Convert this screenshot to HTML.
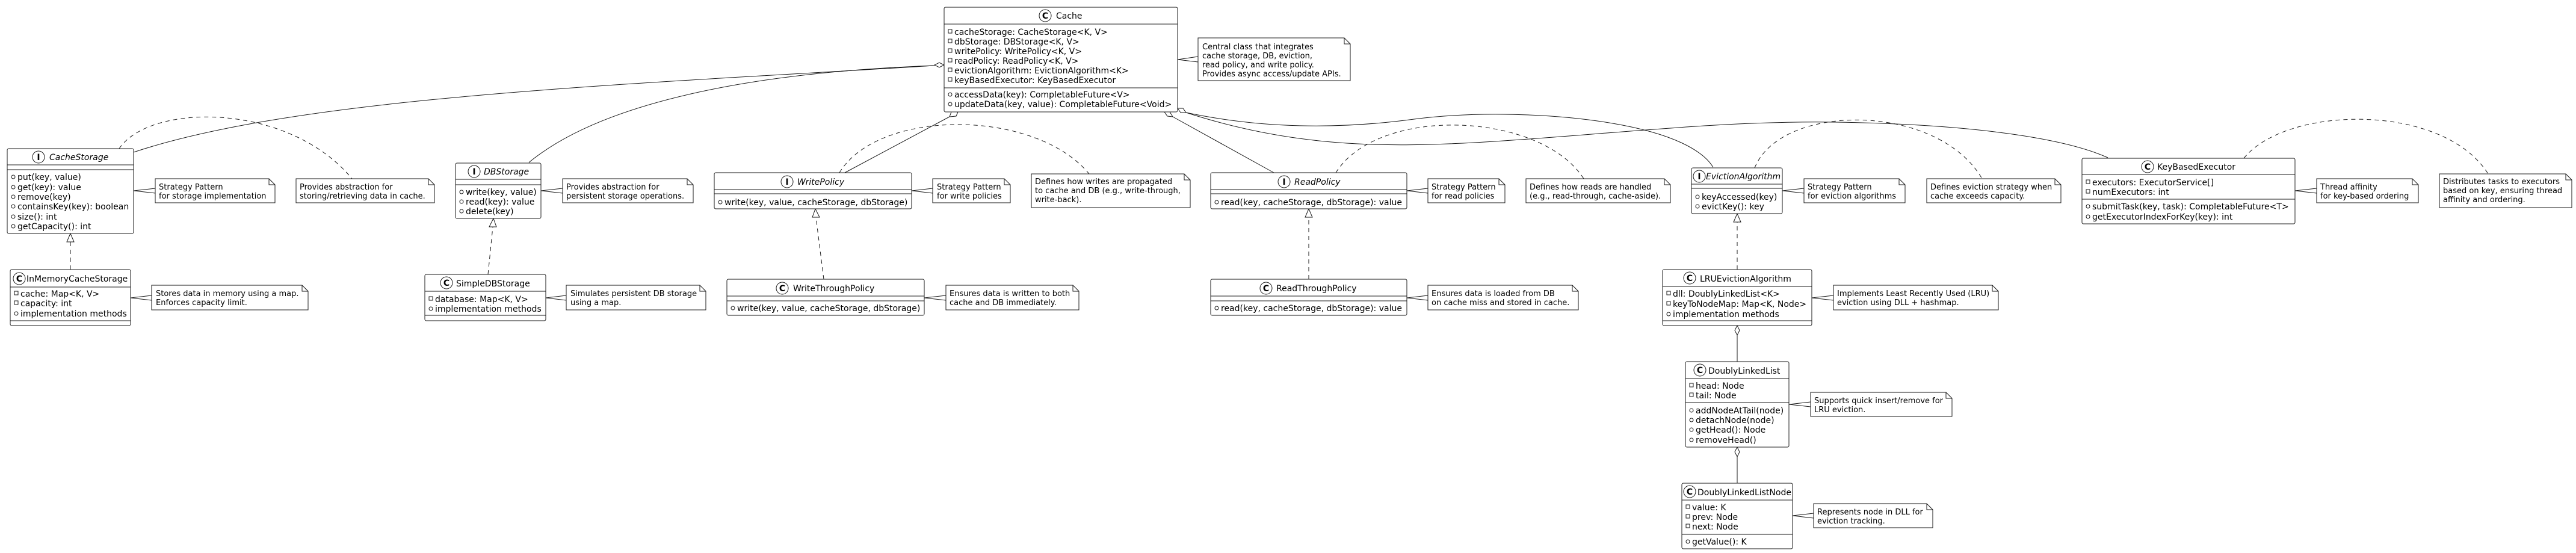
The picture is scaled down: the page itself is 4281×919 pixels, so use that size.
<!DOCTYPE html>
<html><head><meta charset="utf-8"><style>
html,body{margin:0;padding:0;background:#fff;}
svg{display:block;}
text{font-family:"DejaVu Sans","Liberation Sans",sans-serif;fill:#000;}
.m{font-size:14px;}
.n{font-size:14px;}
.it{font-style:italic;}
.ic{font-size:14px;font-weight:bold;}
.nt{font-size:13px;}
.b{fill:#fff;stroke:#181818;stroke-width:1;}
.l{stroke:#181818;stroke-width:1;fill:none;}
.d{stroke:#181818;stroke-width:1;fill:none;stroke-dasharray:7,6;}
.v{fill:none;stroke:#181818;stroke-width:1;}
</style></head><body>
<svg width="4281" height="919" viewBox="0 0 4281 919" xmlns="http://www.w3.org/2000/svg">
<rect width="4281" height="919" fill="#fff"/>

<!-- ============ CONNECTORS ============ -->
<!-- Cache -> CacheStorage / DBStorage -->
<path class="l" d="M1553,109 C1050,140 500,160 222,253"/>
<path class="l" d="M1553,109 C1250,120 1000,170 879,270"/>
<polygon class="b" points="1569,108 1561,104 1553,108 1561,112"/>
<!-- Cache -> WritePolicy -->
<line class="l" x1="1578" y1="194" x2="1404" y2="287"/>
<polygon class="b" points="1592,186 1589,193 1578,194 1581,186"/>
<!-- Cache -> ReadPolicy -->
<line class="l" x1="1949" y1="194" x2="2117" y2="287"/>
<polygon class="b" points="1935,186 1940,193 1949,194 1944,186"/>
<!-- Cache -> EvictionAlgorithm / KeyBasedExecutor -->
<path class="l" d="M1971,187 Q2150,225 2350,198 C2450,185 2580,188 2680,205 C2780,222 2830,250 2847,278"/>
<path class="l" d="M1971,187 C2150,245 2300,245 2450,237 C2650,226 2850,200 3050,203 C3250,206 3420,225 3503,262"/>
<polygon class="b" points="1957,180 1962,187 1971,187 1966,180"/>
<!-- LRU -> DLL, DLL -> Node -->
<line class="l" x1="2887" y1="557" x2="2887" y2="601"/>
<polygon class="b" points="2887,541 2883,549 2887,557 2891,549"/>
<line class="l" x1="2887" y1="759" x2="2887" y2="803"/>
<polygon class="b" points="2887,743 2883,751 2887,759 2891,751"/>

<!-- Realizations -->
<line class="d" x1="117" y1="448" x2="117" y2="402"/>
<polygon class="b" points="117,388 111,402 123,402"/>
<line class="d" x1="811" y1="456" x2="819" y2="377"/>
<polygon class="b" points="820,363 813,377 825,377"/>
<line class="d" x1="1369" y1="464" x2="1356" y2="361"/>
<polygon class="b" points="1355,347 1350,361 1362,361"/>
<line class="d" x1="2175" y1="464" x2="2175" y2="361"/>
<polygon class="b" points="2175,347 2169,361 2181,361"/>
<line class="d" x1="2887" y1="448" x2="2887" y2="369"/>
<polygon class="b" points="2887,355 2881,369 2893,369"/>

<!-- Dashed note links -->
<path class="d" d="M198,247 C250,170 480,170 585,297"/>
<path class="d" d="M1395,287 C1460,180 1720,180 1810,289"/>
<path class="d" d="M2220,287 C2290,175 2560,185 2632,297"/>
<path class="d" d="M2916,279 C2960,170 3220,170 3294,297"/>
<path class="d" d="M3729,263 C3800,175 4060,170 4135,289"/>

<!-- Note wedges -->
<polyline class="l" points="1991,94 1957,99 1991,103"/>
<polyline class="l" points="258,313 222,317 258,321"/>
<polyline class="l" points="252,491 217,495 252,499"/>
<polyline class="l" points="935,313 899,317 935,321"/>
<polyline class="l" points="941,491 907,495 941,499"/>
<polyline class="l" points="1550,313 1515,317 1550,321"/>
<polyline class="l" points="1572,491 1536,495 1572,499"/>
<polyline class="l" points="2373,313 2338,317 2373,321"/>
<polyline class="l" points="2373,491 2338,495 2373,499"/>
<polyline class="l" points="2998,313 2962,317 2998,321"/>
<polyline class="l" points="3850,313 3814,317 3850,321"/>
<polyline class="l" points="3047,491 3011,495 3047,499"/>
<polyline class="l" points="3009,668 2973,672 3009,676"/>
<polyline class="l" points="3014,853 2979,857 3014,861"/>

<!-- ============ CLASSES ============ -->
<!-- Cache -->
<g transform="translate(1569,12)">
<rect class="b" width="388" height="174" rx="2.5"/>
<line class="l" x1="0" y1="28" x2="388" y2="28"/><line class="l" x1="0" y1="134" x2="388" y2="134"/>
<circle class="b" cx="168" cy="14" r="10"/><text class="ic" x="168" y="19" text-anchor="middle">C</text>
<text class="n" x="186" y="19">Cache</text>
<rect class="v" x="7" y="37" width="6" height="6"/><text class="m" x="17" y="46">cacheStorage: CacheStorage&lt;K, V&gt;</text>
<rect class="v" x="7" y="53" width="6" height="6"/><text class="m" x="17" y="62">dbStorage: DBStorage&lt;K, V&gt;</text>
<rect class="v" x="7" y="69" width="6" height="6"/><text class="m" x="17" y="78">writePolicy: WritePolicy&lt;K, V&gt;</text>
<rect class="v" x="7" y="85" width="6" height="6"/><text class="m" x="17" y="94">readPolicy: ReadPolicy&lt;K, V&gt;</text>
<rect class="v" x="7" y="101" width="6" height="6"/><text class="m" x="17" y="110">evictionAlgorithm: EvictionAlgorithm&lt;K&gt;</text>
<rect class="v" x="7" y="117" width="6" height="6"/><text class="m" x="17" y="126">keyBasedExecutor: KeyBasedExecutor</text>
<circle class="v" cx="10" cy="145" r="3"/><text class="m" x="17" y="150">accessData(key): CompletableFuture&lt;V&gt;</text>
<circle class="v" cx="10" cy="161" r="3"/><text class="m" x="17" y="166">updateData(key, value): CompletableFuture&lt;Void&gt;</text>
</g>

<!-- CacheStorage -->
<g transform="translate(12,247)">
<rect class="b" width="210" height="141" rx="2.5"/>
<line class="l" x1="0" y1="27" x2="210" y2="27"/><line class="l" x1="0" y1="35" x2="210" y2="35"/>
<circle class="b" cx="52" cy="14" r="10"/><text class="ic" x="52" y="19" text-anchor="middle">I</text>
<text class="n it" x="70" y="19">CacheStorage</text>
<circle class="v" cx="10" cy="47" r="3"/><text class="m" x="17" y="52">put(key, value)</text>
<circle class="v" cx="10" cy="64" r="3"/><text class="m" x="17" y="69">get(key): value</text>
<circle class="v" cx="10" cy="80" r="3"/><text class="m" x="17" y="85">remove(key)</text>
<circle class="v" cx="10" cy="96" r="3"/><text class="m" x="17" y="101">containsKey(key): boolean</text>
<circle class="v" cx="10" cy="113" r="3"/><text class="m" x="17" y="118">size(): int</text>
<circle class="v" cx="10" cy="129" r="3"/><text class="m" x="17" y="134">getCapacity(): int</text>
</g>

<!-- InMemoryCacheStorage -->
<g transform="translate(17,448)">
<rect class="b" width="200" height="93" rx="2.5"/>
<line class="l" x1="0" y1="29" x2="200" y2="29"/><line class="l" x1="0" y1="85" x2="200" y2="85"/>
<circle class="b" cx="15" cy="15" r="10"/><text class="ic" x="15" y="20" text-anchor="middle">C</text>
<text class="n" x="27" y="20">InMemoryCacheStorage</text>
<rect class="v" x="7" y="36" width="6" height="6"/><text class="m" x="17" y="45">cache: Map&lt;K, V&gt;</text>
<rect class="v" x="7" y="52" width="6" height="6"/><text class="m" x="17" y="61">capacity: int</text>
<circle class="v" cx="10" cy="73" r="3"/><text class="m" x="17" y="78">implementation methods</text>
</g>

<!-- DBStorage -->
<g transform="translate(757,271)">
<rect class="b" width="142" height="92" rx="2.5"/>
<line class="l" x1="0" y1="27" x2="142" y2="27"/><line class="l" x1="0" y1="36" x2="142" y2="36"/>
<circle class="b" cx="31" cy="14" r="10"/><text class="ic" x="31" y="19" text-anchor="middle">I</text>
<text class="n it" x="47" y="19">DBStorage</text>
<circle class="v" cx="10" cy="48" r="3"/><text class="m" x="17" y="53">write(key, value)</text>
<circle class="v" cx="10" cy="64" r="3"/><text class="m" x="17" y="69">read(key): value</text>
<circle class="v" cx="10" cy="80" r="3"/><text class="m" x="17" y="85">delete(key)</text>
</g>

<!-- SimpleDBStorage -->
<g transform="translate(706,456)">
<rect class="b" width="201" height="77" rx="2.5"/>
<line class="l" x1="0" y1="28" x2="201" y2="28"/><line class="l" x1="0" y1="68" x2="201" y2="68"/>
<circle class="b" cx="36" cy="14" r="10"/><text class="ic" x="36" y="19" text-anchor="middle">C</text>
<text class="n" x="52" y="20">SimpleDBStorage</text>
<rect class="v" x="7" y="37" width="6" height="6"/><text class="m" x="17" y="46">database: Map&lt;K, V&gt;</text>
<circle class="v" cx="10" cy="57" r="3"/><text class="m" x="17" y="62">implementation methods</text>
</g>

<!-- WritePolicy -->
<g transform="translate(1187,287)">
<rect class="b" width="328" height="60" rx="2.5"/>
<line class="l" x1="0" y1="28" x2="328" y2="28"/><line class="l" x1="0" y1="35" x2="328" y2="35"/>
<circle class="b" cx="121" cy="15" r="10"/><text class="ic" x="121" y="20" text-anchor="middle">I</text>
<text class="n it" x="138" y="20">WritePolicy</text>
<circle class="v" cx="10" cy="49" r="3"/><text class="m" x="17" y="54">write(key, value, cacheStorage, dbStorage)</text>
</g>

<!-- WriteThroughPolicy -->
<g transform="translate(1208,464)">
<rect class="b" width="328" height="60" rx="2.5"/>
<line class="l" x1="0" y1="28" x2="328" y2="28"/><line class="l" x1="0" y1="36" x2="328" y2="36"/>
<circle class="b" cx="92" cy="15" r="10"/><text class="ic" x="92" y="20" text-anchor="middle">C</text>
<text class="n" x="110" y="20">WriteThroughPolicy</text>
<circle class="v" cx="10" cy="48" r="3"/><text class="m" x="17" y="53">write(key, value, cacheStorage, dbStorage)</text>
</g>

<!-- ReadPolicy -->
<g transform="translate(2012,287)">
<rect class="b" width="326" height="60" rx="2.5"/>
<line class="l" x1="0" y1="28" x2="326" y2="28"/><line class="l" x1="0" y1="35" x2="326" y2="35"/>
<circle class="b" cx="122" cy="15" r="10"/><text class="ic" x="122" y="20" text-anchor="middle">I</text>
<text class="n it" x="139" y="20">ReadPolicy</text>
<circle class="v" cx="10" cy="49" r="3"/><text class="m" x="17" y="54">read(key, cacheStorage, dbStorage): value</text>
</g>

<!-- ReadThroughPolicy -->
<g transform="translate(2012,464)">
<rect class="b" width="326" height="60" rx="2.5"/>
<line class="l" x1="0" y1="28" x2="326" y2="28"/><line class="l" x1="0" y1="36" x2="326" y2="36"/>
<circle class="b" cx="92" cy="15" r="10"/><text class="ic" x="92" y="20" text-anchor="middle">C</text>
<text class="n" x="109" y="20">ReadThroughPolicy</text>
<circle class="v" cx="10" cy="48" r="3"/><text class="m" x="17" y="53">read(key, cacheStorage, dbStorage): value</text>
</g>

<!-- EvictionAlgorithm -->
<g transform="translate(2811,279)">
<rect class="b" width="151" height="76" rx="2.5"/>
<line class="l" x1="0" y1="27" x2="151" y2="27"/><line class="l" x1="0" y1="34" x2="151" y2="34"/>
<circle class="b" cx="13" cy="14" r="10"/><text class="ic" x="13" y="19" text-anchor="middle">I</text>
<text class="n it" x="24" y="19">EvictionAlgorithm</text>
<circle class="v" cx="10" cy="48" r="3"/><text class="m" x="17" y="53">keyAccessed(key)</text>
<circle class="v" cx="10" cy="64" r="3"/><text class="m" x="17" y="69">evictKey(): key</text>
</g>

<!-- LRUEvictionAlgorithm -->
<g transform="translate(2763,448)">
<rect class="b" width="248" height="93" rx="2.5"/>
<line class="l" x1="0" y1="28" x2="248" y2="28"/><line class="l" x1="0" y1="85" x2="248" y2="85"/>
<circle class="b" cx="45" cy="14" r="10"/><text class="ic" x="45" y="19" text-anchor="middle">C</text>
<text class="n" x="62" y="20">LRUEvictionAlgorithm</text>
<rect class="v" x="7" y="36" width="6" height="6"/><text class="m" x="17" y="45">dll: DoublyLinkedList&lt;K&gt;</text>
<rect class="v" x="7" y="53" width="6" height="6"/><text class="m" x="17" y="62">keyToNodeMap: Map&lt;K, Node&gt;</text>
<circle class="v" cx="10" cy="74" r="3"/><text class="m" x="17" y="79">implementation methods</text>
</g>

<!-- KeyBasedExecutor -->
<g transform="translate(3460,263)">
<rect class="b" width="354" height="109" rx="2.5"/>
<line class="l" x1="0" y1="27" x2="354" y2="27"/><line class="l" x1="0" y1="68" x2="354" y2="68"/>
<circle class="b" cx="109" cy="14" r="10"/><text class="ic" x="109" y="19" text-anchor="middle">C</text>
<text class="n" x="125" y="19">KeyBasedExecutor</text>
<rect class="v" x="7" y="36" width="6" height="6"/><text class="m" x="17" y="45">executors: ExecutorService[]</text>
<rect class="v" x="7" y="52" width="6" height="6"/><text class="m" x="17" y="61">numExecutors: int</text>
<circle class="v" cx="10" cy="80" r="3"/><text class="m" x="17" y="85">submitTask(key, task): CompletableFuture&lt;T&gt;</text>
<circle class="v" cx="10" cy="97" r="3"/><text class="m" x="17" y="102">getExecutorIndexForKey(key): int</text>
</g>

<!-- DoublyLinkedList -->
<g transform="translate(2801,601)">
<rect class="b" width="172" height="142" rx="2.5"/>
<line class="l" x1="0" y1="28" x2="172" y2="28"/><line class="l" x1="0" y1="68" x2="172" y2="68"/>
<circle class="b" cx="24" cy="14" r="10"/><text class="ic" x="24" y="19" text-anchor="middle">C</text>
<text class="n" x="38" y="20">DoublyLinkedList</text>
<rect class="v" x="7" y="36" width="6" height="6"/><text class="m" x="17" y="45">head: Node</text>
<rect class="v" x="7" y="52" width="6" height="6"/><text class="m" x="17" y="61">tail: Node</text>
<circle class="v" cx="10" cy="81" r="3"/><text class="m" x="17" y="86">addNodeAtTail(node)</text>
<circle class="v" cx="10" cy="97" r="3"/><text class="m" x="17" y="102">detachNode(node)</text>
<circle class="v" cx="10" cy="113" r="3"/><text class="m" x="17" y="118">getHead(): Node</text>
<circle class="v" cx="10" cy="130" r="3"/><text class="m" x="17" y="135">removeHead()</text>
</g>

<!-- DoublyLinkedListNode -->
<g transform="translate(2795,803)">
<rect class="b" width="184" height="109" rx="2.5"/>
<line class="l" x1="0" y1="28" x2="184" y2="28"/><line class="l" x1="0" y1="85" x2="184" y2="85"/>
<circle class="b" cx="13" cy="14" r="10"/><text class="ic" x="13" y="19" text-anchor="middle">C</text>
<text class="n" x="26" y="20">DoublyLinkedListNode</text>
<rect class="v" x="7" y="36" width="6" height="6"/><text class="m" x="17" y="45">value: K</text>
<rect class="v" x="7" y="52" width="6" height="6"/><text class="m" x="17" y="61">prev: Node</text>
<rect class="v" x="7" y="68" width="6" height="6"/><text class="m" x="17" y="77">next: Node</text>
<circle class="v" cx="10" cy="97" r="3"/><text class="m" x="17" y="102">getValue(): K</text>
</g>

<!-- ============ NOTES ============ -->
<g>
<path class="b" d="M1991,63 H2234 L2244,73 V134 H1991 Z"/><path class="l" d="M2234,63 V73 H2244"/>
<text class="nt" x="1998" y="82">Central class that integrates</text>
<text class="nt" x="1998" y="97">cache storage, DB, eviction,</text>
<text class="nt" x="1998" y="112">read policy, and write policy.</text>
<text class="nt" x="1998" y="127">Provides async access/update APIs.</text>

<path class="b" d="M258,297 H447 L457,307 V337 H258 Z"/><path class="l" d="M447,297 V307 H457"/>
<text class="nt" x="264" y="315">Strategy Pattern</text><text class="nt" x="264" y="330">for storage implementation</text>

<path class="b" d="M492,297 H712 L722,307 V337 H492 Z"/><path class="l" d="M712,297 V307 H722"/>
<text class="nt" x="498" y="315">Provides abstraction for</text><text class="nt" x="498" y="330">storing/retrieving data in cache.</text>

<path class="b" d="M252,474 H502 L512,484 V515 H252 Z"/><path class="l" d="M502,474 V484 H512"/>
<text class="nt" x="259" y="492">Stores data in memory using a map.</text><text class="nt" x="259" y="507">Enforces capacity limit.</text>

<path class="b" d="M935,297 H1142 L1152,307 V337 H935 Z"/><path class="l" d="M1142,297 V307 H1152"/>
<text class="nt" x="941" y="315">Provides abstraction for</text><text class="nt" x="941" y="330">persistent storage operations.</text>

<path class="b" d="M941,474 H1163 L1173,484 V515 H941 Z"/><path class="l" d="M1163,474 V484 H1173"/>
<text class="nt" x="948" y="492">Simulates persistent DB storage</text><text class="nt" x="948" y="507">using a map.</text>

<path class="b" d="M1550,297 H1669 L1679,307 V337 H1550 Z"/><path class="l" d="M1669,297 V307 H1679"/>
<text class="nt" x="1557" y="315">Strategy Pattern</text><text class="nt" x="1557" y="330">for write policies</text>

<path class="b" d="M1714,289 H1968 L1978,299 V345 H1714 Z"/><path class="l" d="M1968,289 V299 H1978"/>
<text class="nt" x="1720" y="306">Defines how writes are propagated</text>
<text class="nt" x="1720" y="321">to cache and DB (e.g., write-through,</text>
<text class="nt" x="1720" y="336">write-back).</text>

<path class="b" d="M1572,474 H1783 L1793,484 V515 H1572 Z"/><path class="l" d="M1783,474 V484 H1793"/>
<text class="nt" x="1578" y="492">Ensures data is written to both</text><text class="nt" x="1578" y="507">cache and DB immediately.</text>

<path class="b" d="M2373,297 H2491 L2501,307 V337 H2373 Z"/><path class="l" d="M2491,297 V307 H2501"/>
<text class="nt" x="2379" y="315">Strategy Pattern</text><text class="nt" x="2379" y="330">for read policies</text>

<path class="b" d="M2536,297 H2766 L2776,307 V337 H2536 Z"/><path class="l" d="M2766,297 V307 H2776"/>
<text class="nt" x="2542" y="315">Defines how reads are handled</text><text class="nt" x="2542" y="330">(e.g., read-through, cache-aside).</text>

<path class="b" d="M2373,474 H2613 L2623,484 V515 H2373 Z"/><path class="l" d="M2613,474 V484 H2623"/>
<text class="nt" x="2379" y="492">Ensures data is loaded from DB</text><text class="nt" x="2379" y="507">on cache miss and stored in cache.</text>

<path class="b" d="M2998,297 H3156 L3166,307 V337 H2998 Z"/><path class="l" d="M3156,297 V307 H3166"/>
<text class="nt" x="3004" y="315">Strategy Pattern</text><text class="nt" x="3004" y="330">for eviction algorithms</text>

<path class="b" d="M3202,297 H3415 L3425,307 V337 H3202 Z"/><path class="l" d="M3415,297 V307 H3425"/>
<text class="nt" x="3208" y="315">Defines eviction strategy when</text><text class="nt" x="3208" y="330">cache exceeds capacity.</text>

<path class="b" d="M3850,297 H4009 L4019,307 V337 H3850 Z"/><path class="l" d="M4009,297 V307 H4019"/>
<text class="nt" x="3856" y="315">Thread affinity</text><text class="nt" x="3856" y="330">for key-based ordering</text>

<path class="b" d="M4054,289 H4264 L4274,299 V345 H4054 Z"/><path class="l" d="M4264,289 V299 H4274"/>
<text class="nt" x="4060" y="306">Distributes tasks to executors</text>
<text class="nt" x="4060" y="321">based on key, ensuring thread</text>
<text class="nt" x="4060" y="336">affinity and ordering.</text>

<path class="b" d="M3047,474 H3311 L3321,484 V515 H3047 Z"/><path class="l" d="M3311,474 V484 H3321"/>
<text class="nt" x="3053" y="492">Implements Least Recently Used (LRU)</text><text class="nt" x="3053" y="507">eviction using DLL + hashmap.</text>

<path class="b" d="M3009,652 H3234 L3244,662 V692 H3009 Z"/><path class="l" d="M3234,652 V662 H3244"/>
<text class="nt" x="3015" y="670">Supports quick insert/remove for</text><text class="nt" x="3015" y="685">LRU eviction.</text>

<path class="b" d="M3014,837 H3202 L3212,847 V877 H3014 Z"/><path class="l" d="M3202,837 V847 H3212"/>
<text class="nt" x="3020" y="855">Represents node in DLL for</text><text class="nt" x="3020" y="870">eviction tracking.</text>
</g>
</svg>
</body></html>
